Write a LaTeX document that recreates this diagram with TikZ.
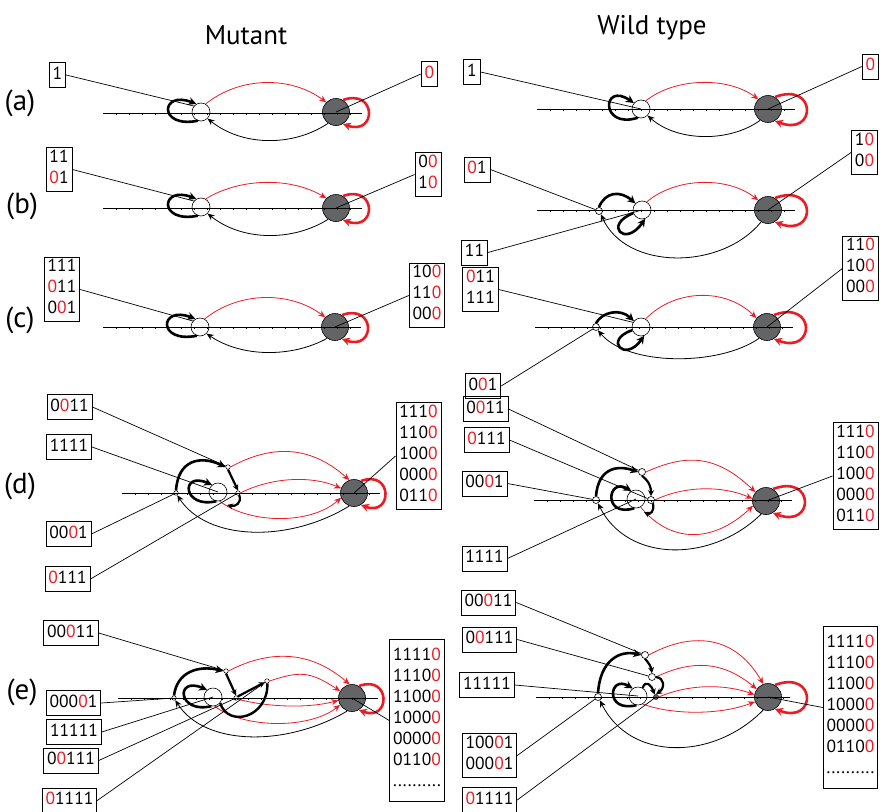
\documentclass[tikz,border=0pt]{standalone}
\usepackage{fontspec}
\setmainfont{PT Sans}
\usetikzlibrary{arrows.meta,calc}
\definecolor{myred}{HTML}{EC1C24}
\definecolor{mygray}{HTML}{636466}
\newcommand\rz{{\color{myred}0}}
\newcommand\axl[4]{%
  \draw[axis] (#2,#4) coordinate (#1-ax1) -- (#3,#4) coordinate (#1-ax2);
  \foreach \k in {1,...,19}{\draw[tk] ({#2+\k*13},#4) -- ++(0,1.5);}
}
\begin{document}
\begin{tikzpicture}[x=1pt,y=-1pt,
  axis/.style={line width=0.8pt},
  tk/.style={line width=0.35pt},
  onode/.style={circle,draw,fill=white,line width=0.6pt,minimum size=18pt,inner sep=0pt},
  gnode/.style={circle,draw,fill=mygray,line width=0.6pt,minimum size=27pt,inner sep=0pt},
  snode/.style={circle,draw,fill=white,line width=0.6pt,minimum size=7pt,inner sep=0pt},
  tnode/.style={circle,draw,fill=white,line width=0.5pt,minimum size=4.5pt,inner sep=0pt},
  dnode/.style={circle,draw,fill=mygray,line width=0.5pt,minimum size=5pt,inner sep=0pt},
  lbl/.style={draw,line width=0.8pt,inner xsep=3.5pt,inner ysep=2pt,align=left,
    font=\fontsize{17.5}{21}\selectfont,execute at begin node=\strut,execute at end node=\strut},
  conn/.style={line width=0.7pt},
  rarc/.style={myred,line width=0.8pt,-{Stealth[length=7pt,width=6pt]}},
  barc/.style={black,line width=0.8pt,-{Stealth[length=7pt,width=6pt]}},
  thk/.style={line width=2.6pt,-{Stealth[length=8pt,width=8pt]}},
  thks/.style={line width=2.2pt,-{Stealth[length=6pt,width=6pt]}},
  thkn/.style={line width=2.4pt},
  rloop/.style={myred,line width=2.6pt,-{Stealth[length=8pt,width=8pt]}},
  ttl/.style={font=\fontsize{27}{32}\selectfont},
  rowl/.style={font=\fontsize{29}{34}\selectfont}
]
\useasboundingbox (0,0) rectangle (880,811);

% titles and row labels
\node[ttl] (t1) at (246,35) {Mutant};
\node[ttl] (t2) at (652,28) {Wild type};
\node[rowl] (ra) at (20,103) {(a)};
\node[rowl] (rb) at (22,206) {(b)};
\node[rowl] (rc) at (20,320) {(c)};
\node[rowl] (rd) at (20,486) {(d)};
\node[rowl] (re) at (22,692) {(e)};

% ================= Mutant (a)
\node[onode] (ma-o) at (201,112) {};
\node[gnode] (ma-g) at (336,112) {};
\axl{ma}{103}{362}{113}
\draw[rarc] (ma-o.60) .. controls +(35,-28) and +(-35,-26) .. (ma-g.135);
\draw[barc] (ma-g.235) .. controls +(-35,23.5) and +(35,28) .. (ma-o.-45);
\draw[thk] (ma-o.250) .. controls +(-40,8) and +(-36,-14) .. (ma-o.120);
\draw[rloop] (ma-g.60) .. controls +(34,-12) and +(34,12) .. (ma-g.-60);
\node[lbl] (ma-l) at (57.5,75) {1};
\node[lbl] (ma-r) at (429.5,74) {\rz};
\draw[conn] (ma-l.east) -- (ma-o.140);
\draw[conn] (ma-r.west) -- (ma-g.center);

% ================= Mutant (b)
\node[onode] (mb-o) at (201,207) {};
\node[gnode] (mb-g) at (336,208) {};
\axl{mb}{103}{362}{208}
\draw[rarc] (mb-o.60) .. controls +(35,-21.5) and +(-35,-21) .. (mb-g.135);
\draw[barc] (mb-g.235) .. controls +(-35,22) and +(35,28) .. (mb-o.-45);
\draw[thk] (mb-o.250) .. controls +(-40,8) and +(-36,-14) .. (mb-o.120);
\draw[rloop] (mb-g.60) .. controls +(34,-12) and +(34,12) .. (mb-g.-60);
\node[lbl] (mb-l) at (59,169.5) {11\\\rz1};
\node[lbl] (mb-r) at (428,174.5) {0\rz\\1\rz};
\draw[conn] (mb-l.east) -- (mb-o.140);
\draw[conn] (mb-r.west) -- (mb-g.center);

% ================= Mutant (c)
\node[onode] (mc-o) at (200,327) {};
\node[gnode] (mc-g) at (335,327) {};
\axl{mc}{103}{361}{327}
\draw[rarc] (mc-o.60) .. controls +(35,-28) and +(-35,-26) .. (mc-g.135);
\draw[barc] (mc-g.235) .. controls +(-35,19.4) and +(35,24) .. (mc-o.-45);
\draw[thk] (mc-o.250) .. controls +(-40,8) and +(-36,-14) .. (mc-o.120);
\draw[rloop] (mc-g.60) .. controls +(34,-12) and +(34,12) .. (mc-g.-60);
\node[lbl] (mc-l) at (62,289.5) {111\\\rz11\\0\rz1};
\node[lbl] (mc-r) at (427,295.5) {10\rz\\11\rz\\00\rz};
\draw[conn] (mc-l.east) -- (mc-o.140);
\draw[conn] (mc-r.west) -- (mc-g.center);

% ================= Mutant (d)
\node[onode] (md-o) at (218,492) {};
\node[gnode] (md-g) at (354,493) {};
\node[tnode] (md-a) at (228,467) {};
\node[tnode] (md-b) at (176,493) {};
\node[tnode] (md-c) at (238,493) {};
\axl{md}{122}{380}{493}
\draw[rarc] (md-a.east) .. controls +(40,-22) and +(-40,-35.5) .. (md-g.110);
\draw[rarc] (md-c.east) .. controls +(30,-15.6) and +(-30,-13) .. (md-g.160);
\draw[rarc] (md-o.-80) .. controls +(30,23) and +(-30,27) .. (md-g.200);
\draw[barc] (md-g.250) .. controls +(-60,37) and +(30,46) .. (md-b.-60);
\draw[thk] (md-b.north) .. controls (178,460) and (200,455) .. (md-a.west);
\draw[thks] (md-a.south) -- (md-c.north);
\draw[thk] (md-o.260) .. controls +(-34,8) and +(-32,-14) .. (md-o.130);
\coordinate (md-h) at (227,505);
\draw[thks] (md-c.-60) .. controls +(3,8) and +(8,2) .. (md-h);
\draw[rloop] (md-g.60) .. controls +(32,-12) and +(32,12) .. (md-g.-60);
\node[lbl] (md-l1) at (69.5,407) {0\rz11};
\node[lbl] (md-l2) at (69,447) {1111};
\node[lbl] (md-l3) at (68.5,534) {00\rz1};
\node[lbl] (md-l4) at (67.5,579) {\rz111};
\node[lbl] (md-r) at (418.5,456) {111\rz\\110\rz\\100\rz\\000\rz\\011\rz};
\draw[conn] (md-l1.east) -- (md-a);
\draw[conn] (md-l2.east) -- (md-o.center);
\draw[conn] (md-l3.east) -- (md-b);
\draw[conn] (md-l4.east) -- (md-c);
\draw[conn] (md-r.west) -- (md-g.center);

% ================= Mutant (e)
\node[onode] (me-o) at (213,697) {};
\node[gnode] (me-g) at (352,698) {};
\node[tnode] (me-a) at (226,671) {};
\node[tnode] (me-b) at (174,698) {};
\node[tnode] (me-c) at (236,698) {};
\node[tnode] (me-d) at (267,681) {};
\axl{me}{118}{378}{698}
\draw[rarc] (me-a.east) .. controls +(40,-21) and +(-40,-34.7) .. (me-g.100);
\draw[rarc] (me-d.east) .. controls +(30,-10) and +(-30,-20) .. (me-g.150);
\draw[rarc] (me-c.-30) .. controls +(30,8) and +(-30,8) .. (me-g.190);
\draw[rarc] (me-o.-80) .. controls +(30,23) and +(-30,24) .. (me-g.210);
\draw[barc] (me-g.250) .. controls +(-60,35.6) and +(30,46.6) .. (me-b.-60);
\draw[thk] (me-b.north) .. controls (177,672) and (198,665) .. (me-a.west);
\draw[thks] (me-a.south) -- (me-c.north);
\draw[thks] (me-c.40) -- (me-d.210);
\draw[thk] (me-o.260) .. controls +(-34,8) and +(-32,-14) .. (me-o.130);
\draw[thkn] (me-d.-80) .. controls (268,718) and (228,728) .. (me-o.-40);
\draw[rloop] (me-g.60) .. controls +(32,-12) and +(32,12) .. (me-g.-60);
\node[lbl] (me-l1) at (71,633) {00\rz11};
\node[lbl] (me-l2) at (73.5,703) {000\rz1};
\node[lbl] (me-l3) at (74,732) {11111};
\node[lbl] (me-l4) at (71,760.5) {0\rz111};
\node[lbl] (me-l5) at (69.5,800.5) {\rz1111};
\node[lbl,inner ysep=9pt] (me-r) at (417,720.5) {1111\rz\\1110\rz\\1100\rz\\1000\rz\\0000\rz\\0110\rz\\..........};
\draw[conn] (me-l1.east) -- (me-a);
\draw[conn] (me-l2.east) -- (me-b);
\draw[conn] (me-l3.east) -- (me-o.center);
\draw[conn] (me-l4.east) -- (me-c);
\draw[conn] (me-l5.east) -- (me-d);
\draw[conn] (me-r.west) -- (me-g.center);

% ================= Wild type (a)
\node[onode] (wa-o) at (641,109) {};
\node[gnode] (wa-g) at (768,109) {};
\axl{wa}{537}{795}{109}
\draw[rarc] (wa-o.60) .. controls +(30,-24) and +(-30,-22.3) .. (wa-g.135);
\draw[barc] (wa-g.235) .. controls +(-30,22) and +(30,26.7) .. (wa-o.-45);
\draw[thk] (wa-o.250) .. controls +(-38,12) and +(-32,-22) .. (wa-o.140);
\draw[rloop] (wa-g.60) .. controls +(42,-16) and +(42,16) .. (wa-g.-60);
\node[lbl] (wa-l) at (472,72) {1};
\node[lbl] (wa-r) at (870.5,66.5) {\rz};
\draw[conn] (wa-l.east) -- (wa-o.center);
\draw[conn] (wa-r.west) -- (wa-g.center);

% ================= Wild type (b)
\node[onode] (wb-o) at (642,210) {};
\node[snode] (wb-s) at (599,211) {};
\node[gnode] (wb-g) at (768,210) {};
\axl{wb}{537}{795}{210}
\draw[rarc] (wb-o.60) .. controls +(30,-25.3) and +(-30,-23.6) .. (wb-g.135);
\draw[barc] (wb-g.240) .. controls +(-40,48.8) and +(25,56) .. (wb-s.-60);
\draw[thk] (wb-s.north) .. controls (605,192) and (620,190) .. (wb-o.135);
\draw[thk] (wb-o.200) .. controls (603,225) and (625,248) .. (wb-o.-70);
\draw[rloop] (wb-g.60) .. controls +(42,-16) and +(42,16) .. (wb-g.-60);
\node[lbl] (wb-l1) at (477,169.5) {\rz1};
\node[lbl] (wb-l2) at (474.5,252.5) {11};
\node[lbl] (wb-r) at (864.5,152.5) {1\rz\\0\rz};
\draw[conn] (wb-l1.east) -- (wb-s);
\draw[conn] (wb-l2.east) -- (wb-o.center);
\draw[conn] (wb-r.west) -- (wb-g.center);

% ================= Wild type (c)
\node[onode] (wc-o) at (641,327) {};
\node[snode] (wc-s) at (596,327) {};
\node[gnode] (wc-g) at (767,327) {};
\axl{wc}{535}{793}{327}
\draw[rarc] (wc-o.60) .. controls +(30,-30.8) and +(-30,-29.9) .. (wc-g.140);
\draw[barc] (wc-g.235) .. controls +(-40,28) and +(30,36) .. (wc-s.-60);
\draw[thk] (wc-s.north) .. controls (602,312) and (620,308) .. (wc-o.140);
\draw[thk] (wc-o.200) .. controls (603,340) and (625,363) .. (wc-o.-70);
\draw[rloop] (wc-g.60) .. controls +(42,-16) and +(42,16) .. (wc-g.-60);
\node[lbl] (wc-l1) at (480.5,289.5) {\rz11\\111};
\node[lbl] (wc-l2) at (483,386) {0\rz1};
\node[lbl] (wc-r) at (860.5,268.5) {11\rz\\10\rz\\00\rz};
\draw[conn] (wc-l1.east) -- (wc-o.150);
\draw[conn] (wc-l2.east) -- (wc-s);
\draw[conn] (wc-r.west) -- (wc-g.center);

% ================= Wild type (d)
\node[onode] (wd-o) at (636,499) {};
\node[snode] (wd-a) at (642,472) {};
\node[snode] (wd-b) at (596,500) {};
\node[snode] (wd-c) at (651,500) {};
\node[gnode] (wd-g) at (766,501) {};
\axl{wd}{534}{792}{500}
\draw[rarc] (wd-a.east) .. controls +(40,-18) and +(-40,-38) .. (wd-g.140);
\draw[rarc] (wd-c.east) .. controls +(30,-14.4) and +(-30,-13) .. (wd-g.170);
\draw[rarc] (wd-o.-60) .. controls +(30,36.5) and +(-40,37.7) .. (wd-g.200);
\draw[barc] (wd-g.250) .. controls +(-50,49) and +(30,59.6) .. (wd-b.-60);
\draw[thk] (wd-b.north) .. controls (598,470) and (615,464) .. (wd-a.west);
\draw[thks] (wd-a.south) .. controls (650,482) and (651,488) .. (wd-c.north);
\draw[thk] (wd-o.-100) .. controls +(-32,10) and +(-24,-14) .. (wd-o.120);
\coordinate (wd-h) at (644,512);
\draw[thks] (wd-c.-60) .. controls +(2,8) and +(6,3) .. (wd-h);
\draw[rloop] (wd-g.60) .. controls +(42,-16) and +(42,16) .. (wd-g.-60);
\node[lbl] (wd-l1) at (485.5,409) {0\rz11};
\node[lbl] (wd-l2) at (486.5,440) {\rz111};
\node[lbl] (wd-l3) at (484.5,483.5) {00\rz1};
\node[lbl] (wd-l4) at (484.5,558.5) {1111};
\node[lbl] (wd-r) at (855.5,476) {111\rz\\110\rz\\100\rz\\000\rz\\011\rz};
\draw[conn] (wd-l1.east) -- (wd-a);
\draw[conn] (wd-l2.east) -- (wd-c);
\draw[conn] (wd-l3.east) -- (wd-b);
\draw[conn] (wd-l4.east) -- (wd-o.center);
\draw[conn] (wd-r.west) -- (wd-g.center);

% ================= Wild type (e)
\node[onode] (we-o) at (638,696) {};
\node[snode] (we-a) at (645,655) {};
\node[snode] (we-e) at (652,677) {};
\node[snode] (we-b) at (598,697) {};
\node[dnode] (we-c) at (656,697) {};
\node[gnode] (we-g) at (768,697) {};
\axl{we}{536}{790}{697}
\draw[rarc] (we-a.east) .. controls +(40,-22) and +(-30,-51.5) .. (we-g.110);
\draw[rarc] (we-e.east) .. controls +(35,-16.7) and +(-35,-29) .. (we-g.145);
\draw[rarc] (we-c.east) .. controls +(30,-13) and +(-30,-10.7) .. (we-g.170);
\draw[rarc] (we-o.-60) .. controls +(30,11) and +(-35,13.4) .. (we-g.200);
\draw[barc] (we-g.250) .. controls +(-50,51) and +(30,61) .. (we-b.-60);
\draw[thk] (we-b.north) .. controls (600,660) and (620,650) .. (we-a.west);
\draw[thks] (we-a.south) .. controls (649,663) and (651,667) .. (we-e.north);
\draw[thks] (we-e.east) .. controls (665,678) and (665,688) .. (we-c.north);
\draw[thk] (we-o.-100) .. controls +(-32,8) and +(-24,-14) .. (we-o.125);
\draw[thks] (we-o.60) .. controls +(3,-9) and +(-3,-9) .. (we-c.120);
\draw[rloop] (we-g.60) .. controls +(42,-16) and +(42,16) .. (we-g.-60);
\node[lbl] (we-l1) at (488.5,602.5) {00\rz11};
\node[lbl] (we-l2) at (489.5,639.5) {0\rz111};
\node[lbl] (we-l3) at (487,685) {11111};
\node[lbl] (we-l4) at (489.5,755.5) {100\rz1\\000\rz1};
\node[lbl] (we-l5) at (489.5,800) {\rz1111};
\node[lbl,inner ysep=9pt] (we-r) at (850.5,707.5) {1111\rz\\1110\rz\\1100\rz\\1000\rz\\0000\rz\\0110\rz\\..........};
\draw[conn] (we-l1.east) -- (we-a);
\draw[conn] (we-l2.east) -- (we-e);
\draw[conn] (we-l3.east) -- (we-o.center);
\draw[conn] (we-l4.east) -- (we-b);
\draw[conn] (we-l5.east) -- (we-c);
\draw[conn] (we-r.west) -- (we-g.center);
\end{tikzpicture}
\end{document}
